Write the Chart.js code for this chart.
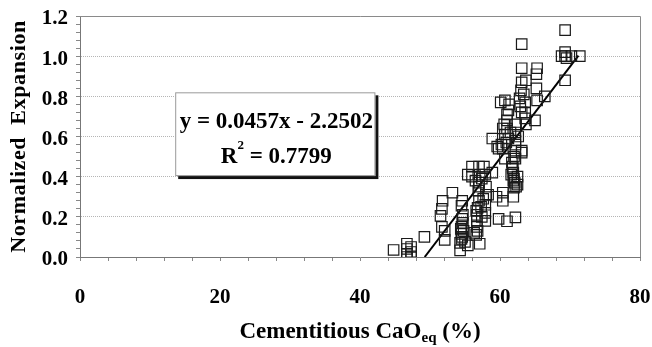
<!DOCTYPE html>
<html>
<head>
<meta charset="utf-8">
<script src="https://cdn.jsdelivr.net/npm/chart.js@4/dist/chart.umd.min.js"></script>
<style>
  html, body { margin: 0; padding: 0; background: #fff; }
  #wrap { width: 652px; height: 347px; position: relative; }
</style>
</head>
<body>
<div id="wrap"><canvas id="chart"></canvas></div>
<script>
// measured points (CaOeq %, normalized expansion)
const xValues = [
  44.8, 46.7, 46.7, 47.3, 46.7, 47.3, 47.3, 46.7, 49.2, 51.5,
  51.7, 51.8, 51.7, 52.1, 52.1, 53.2, 54.6, 54.5, 54.7, 54.7,
  54.5, 54.5, 54.5, 54.3, 54.3, 54.8, 55.4, 56.0, 55.4, 56.0,
  56.3, 56.8, 56.8, 56.7, 56.7, 56.7, 57.0, 57.1, 57.0, 57.0,
  57.1, 57.7, 57.9, 58.0, 58.0, 57.9, 57.9, 57.9, 58.3, 58.9,
  59.5, 59.8, 60.4, 60.4, 61.0, 61.9, 62.2, 58.9, 59.8, 60.1,
  60.7, 60.4, 60.7, 60.4, 60.7, 61.0, 61.0, 61.0, 61.2, 61.3,
  61.6, 61.8, 61.9, 62.0, 62.2, 62.2, 62.2, 62.2, 62.3, 62.5,
  62.5, 62.8, 63.0, 63.1, 63.1, 63.1, 63.1, 63.1, 63.1, 63.6,
  63.6, 63.6, 63.7, 63.7, 65.0, 65.2, 65.3, 65.2, 65.3, 66.4,
  68.8, 69.3, 69.3, 69.5, 69.3, 69.3, 70.2, 71.4,
  61.8, 61.9, 62.0, 62.1, 61.7, 62.3, 62.0, 62.2, 61.5, 60.9,
  60.2, 59.6, 60.6, 61.2, 62.6, 62.9, 63.4,
  56.5, 56.9, 57.4, 57.6, 57.3, 56.6, 57.0, 56.6, 57.4,
  54.6, 54.4, 54.6, 55.0
];
const yValues = [
  0.035, 0.066, 0.04, 0.05, 0.016, 0.003, 0.025, 0.0, 0.10, 0.205,
  0.24, 0.28, 0.15, 0.13, 0.085, 0.32, 0.28, 0.255, 0.21, 0.17,
  0.15, 0.115, 0.09, 0.07, 0.033, 0.13, 0.058, 0.45, 0.41, 0.40,
  0.12, 0.13, 0.245, 0.21, 0.18, 0.15, 0.45, 0.41, 0.37, 0.35,
  0.066, 0.45, 0.41, 0.35, 0.31, 0.26, 0.22, 0.18, 0.31, 0.42,
  0.30, 0.19, 0.32, 0.28, 0.178, 0.30, 0.197, 0.59, 0.54, 0.77,
  0.78, 0.64, 0.61, 0.54, 0.49, 0.71, 0.68, 0.64, 0.59, 0.76,
  0.41, 0.44, 0.38, 0.345, 0.49, 0.53, 0.56, 0.62, 0.66, 0.36,
  0.40, 0.79, 0.83, 0.87, 0.94, 1.06, 0.72, 0.53, 0.52, 0.77,
  0.72, 0.69, 0.66, 0.88, 0.68, 0.91, 0.94, 0.84, 0.78, 0.80,
  1.00, 1.02, 1.00, 0.99, 1.13, 0.88, 1.00, 1.00,
  0.45, 0.42, 0.39, 0.37, 0.47, 0.35, 0.50, 0.58, 0.62, 0.57,
  0.56, 0.55, 0.66, 0.73, 0.60, 0.75, 0.81,
  0.38, 0.33, 0.39, 0.29, 0.25, 0.23, 0.28, 0.11, 0.20,
  0.19, 0.14, 0.10, 0.075
];
// trendline end points as drawn
const trendX = [49.24, 71.2];
const trendY = [0.0, 1.003];

const xTicks = [0, 20, 40, 60, 80];
const yTicks = [0.0, 0.2, 0.4, 0.6, 0.8, 1.0, 1.2];

const eqText = 'y = 0.0457x - 2.2502';
const r2Value = '0.7799';

const SERIF = '"Liberation Serif", "Times New Roman", serif';
const isMajor = (v, step) => Math.abs(v / step - Math.round(v / step)) < 1e-6;

const points = xValues.map((x, i) => ({ x, y: yValues[i] }));
const trend = trendX.map((x, i) => ({ x, y: trendY[i] }));

const frame = {
  id: 'frame',
  beforeDatasetsDraw(chart) {
    const { ctx, chartArea: a, scales: { x, y } } = chart;
    ctx.save();
    // top / right border of plot area
    ctx.strokeStyle = '#8a8a8a';
    ctx.lineWidth = 1;
    ctx.beginPath();
    ctx.moveTo(a.left, a.top + 0.5);
    ctx.lineTo(a.right + 0.5, a.top + 0.5);
    ctx.lineTo(a.right + 0.5, a.bottom);
    ctx.stroke();

    // equation box
    const bl = x.getPixelForValue(13.6), br = x.getPixelForValue(42.2);
    const bt = y.getPixelForValue(0.82), bb = y.getPixelForValue(0.403);
    ctx.fillStyle = '#111';
    ctx.fillRect(bl + 3, bt + 3, br - bl, bb - bt);
    ctx.fillStyle = '#fff';
    ctx.fillRect(bl, bt, br - bl, bb - bt);
    ctx.strokeStyle = '#9a9a9a';
    ctx.strokeRect(bl + 0.5, bt + 0.5, br - bl - 1, bb - bt - 1);

    ctx.fillStyle = '#000';
    ctx.textBaseline = 'alphabetic';
    ctx.font = 'bold 23px ' + SERIF;
    const cx = (bl + br) / 2 + 1;
    ctx.textAlign = 'center';
    ctx.fillText(eqText, cx, bt + 36);
    // R² line
    const r = 'R', rest = ' = ' + r2Value;
    const wR = ctx.measureText(r).width, wRest = ctx.measureText(rest).width;
    ctx.font = 'bold 13px ' + SERIF;
    const w2 = ctx.measureText('2').width;
    const start = cx - (wR + w2 + wRest) / 2;
    ctx.textAlign = 'left';
    ctx.font = 'bold 23px ' + SERIF;
    ctx.fillText(r, start, bt + 71);
    ctx.fillText(rest, start + wR + w2, bt + 71);
    ctx.font = 'bold 13px ' + SERIF;
    ctx.fillText('2', start + wR, bt + 57);
    ctx.restore();
  },
  afterDraw(chart) {
    const { ctx, chartArea: a } = chart;
    ctx.save();
    ctx.fillStyle = '#000';
    // y title
    ctx.font = 'bold 22px ' + SERIF;
    ctx.letterSpacing = '0.6px';
    ctx.translate(19, (a.top + a.bottom) / 2);
    ctx.rotate(-Math.PI / 2);
    ctx.textAlign = 'center';
    ctx.textBaseline = 'middle';
    ctx.fillText('Normalized  Expansion', 0, 0);
    ctx.restore();

    // x title with subscript
    ctx.save();
    ctx.fillStyle = '#000';
    ctx.textBaseline = 'alphabetic';
    const p1 = 'Cementitious CaO', sub = 'eq', p2 = ' (%)';
    ctx.font = 'bold 23px ' + SERIF;
    const w1 = ctx.measureText(p1).width, w3 = ctx.measureText(p2).width;
    ctx.font = 'bold 15px ' + SERIF;
    const ws = ctx.measureText(sub).width;
    const cx = (a.left + a.right) / 2;
    let sx = cx - (w1 + ws + w3) / 2;
    const base = 338;
    ctx.font = 'bold 23px ' + SERIF;
    ctx.fillText(p1, sx, base);
    ctx.fillText(p2, sx + w1 + ws, base);
    ctx.font = 'bold 15px ' + SERIF;
    ctx.fillText(sub, sx + w1, base + 4);
    ctx.restore();
  }
};

new Chart(document.getElementById('chart'), {
  type: 'scatter',
  data: {
    datasets: [
      {
        label: 'data',
        data: points,
        pointStyle: 'rect',
        pointRadius: 7.4,
        borderColor: '#1a1a1a',
        borderWidth: 1.2,
        backgroundColor: 'rgba(0,0,0,0)',
      },
      {
        label: 'trend',
        type: 'line',
        data: trend,
        borderColor: '#000',
        borderWidth: 2,
        pointRadius: 0,
        fill: false,
      },
    ],
  },
  options: {
    responsive: true,
    maintainAspectRatio: false,
    animation: false,
    events: [],
    layout: { padding: { left: 0, right: 12, top: 16, bottom: 0 } },
    plugins: { legend: { display: false }, tooltip: { enabled: false } },
    scales: {
      x: {
        type: 'linear',
        min: xTicks[0],
        max: xTicks[xTicks.length - 1],
        afterFit: s => { s.height = 90; s.paddingLeft = 0; s.paddingRight = 0; },
        ticks: {
          stepSize: 4,
          autoSkip: false,
          maxRotation: 0,
          padding: 24,
          color: '#000',
          font: { family: SERIF, size: 21, weight: 'bold' },
          callback: v => (isMajor(v, 20) ? String(v) : ''),
        },
        grid: { drawOnChartArea: false, tickLength: 4, tickColor: '#888' },
        border: { color: '#777', width: 1 },
      },
      y: {
        type: 'linear',
        min: yTicks[0],
        max: yTicks[yTicks.length - 1],
        afterFit: s => { s.width = 80; s.paddingTop = 0; s.paddingBottom = 0; },
        ticks: {
          stepSize: 0.04,
          autoSkip: false,
          padding: 8,
          labelOffset: 3,
          color: '#000',
          font: { family: SERIF, size: 21, weight: 'bold' },
          callback: v => (isMajor(v, 0.2) ? v.toFixed(1) : ''),
        },
        grid: {
          tickLength: 4,
          tickColor: '#888',
          color: c => (c.tick && isMajor(c.tick.value, 0.2) ? '#b5b5b5' : 'rgba(0,0,0,0)'),
        },
        border: { color: '#777', width: 1, dash: [1, 1] },
      },
    },
  },
  plugins: [frame],
});
</script>
</body>
</html>
